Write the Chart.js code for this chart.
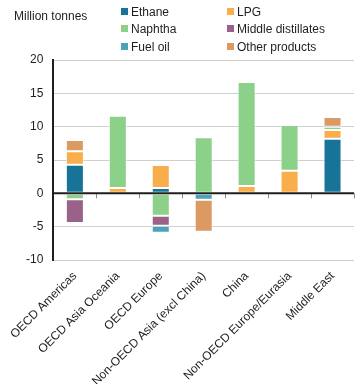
<!DOCTYPE html>
<html>
<head>
<meta charset="utf-8">
<script src="https://cdn.jsdelivr.net/npm/chart.js@4/dist/chart.umd.min.js"></script>
<style>
    body { margin: 0; background: #fff; }
    #wrap { position: relative; width: 362px; height: 384px; font-family: "Liberation Sans", Arial, sans-serif; color: #1e1e1e; }
    #chart { position: absolute; left: 0; top: 0; }
    #unit { position: absolute; left: 14px; top: 9px; font-size: 12px; }
    .item { position: absolute; font-size: 12px; line-height: 14px; white-space: nowrap; }
    .item span { display: inline-block; width: 7px; height: 7px; margin-right: 3px; vertical-align: 1px; }
</style>
</head>
<body>
<div id="wrap">
    <canvas id="chart" width="362" height="384"></canvas>
    <div id="unit">Million tonnes</div>
    <div id="legend"></div>
</div>
<script>
'use strict';

var regions = ['OECD Americas', 'OECD Asia Oceania', 'OECD Europe', 'Non-OECD Asia (excl China)',
    'China', 'Non-OECD Europe/Eurasia', 'Middle East'];
var ethane = [4.3, 0, 0.8, 0, 0, 0, 8.2];
var lpg = [2.0, 0.8, 3.45, 0, 1.1, 3.4, 1.3];
var naphtha = [-0.9, 10.85, -3.35, 8.4, 15.6, 6.85, 0.5];
var middleDistillates = [-3.55, -0.2, -1.5, 0, 0, 0, 0];
var fuelOil = [0, 0, -1.05, -0.95, 0.25, 0, 0];
var otherProducts = [1.7, 0.2, -0.15, -4.8, 0, 0.1, 1.45];
var yTicks = [-10, -5, 0, 5, 10, 15, 20];

var series = [
    { label: 'Ethane', data: ethane, color: '#177498' },
    { label: 'LPG', data: lpg, color: '#f9ae4b' },
    { label: 'Naphtha', data: naphtha, color: '#8bd189' },
    { label: 'Middle distillates', data: middleDistillates, color: '#9a6289' },
    { label: 'Fuel oil', data: fuelOil, color: '#4aa3b7' },
    { label: 'Other products', data: otherProducts, color: '#da9a62' }
];

// legend, two columns
var legendPos = [[121, 5], [227, 5], [121, 22], [227, 22], [121, 40], [227, 40]];
var legend = document.getElementById('legend');
series.forEach(function (s, i) {
    var div = document.createElement('div');
    div.className = 'item';
    div.style.left = legendPos[i][0] + 'px';
    div.style.top = legendPos[i][1] + 'px';
    div.innerHTML = '<span style="background:' + s.color + '"></span>' + s.label;
    legend.appendChild(div);
});

// zero line over the bars, with small ticks between categories
var zeroLine = {
    id: 'zeroLine',
    afterDatasetsDraw: function (chart) {
        var ctx = chart.ctx, x = chart.scales.x, y = chart.scales.y;
        var y0 = y.getPixelForValue(0);
        var step = (x.right - x.left) / regions.length;
        ctx.save();
        ctx.strokeStyle = '#8a8a8a';
        ctx.lineWidth = 1;
        for (var i = 1; i <= regions.length; i++) {
            var px = Math.round(x.left + step * i) + 0.5;
            ctx.beginPath();
            ctx.moveTo(px, y0);
            ctx.lineTo(px, y0 + 5);
            ctx.stroke();
        }
        ctx.strokeStyle = '#1e1e1e';
        ctx.lineWidth = 2;
        ctx.beginPath();
        ctx.moveTo(x.left, y0);
        ctx.lineTo(x.right, y0);
        ctx.stroke();
        ctx.restore();
    }
};

var context = document.getElementById('chart').getContext('2d');
var chart = new Chart(context, {
    type: 'bar',
    data: {
        labels: regions,
        datasets: series.map(function (s) {
            return {
                label: s.label,
                data: s.data,
                backgroundColor: s.color,
                borderColor: 'rgba(255,255,255,0.7)',
                borderWidth: 1,
                borderSkipped: false,
                barPercentage: 0.84,
                categoryPercentage: 0.5
            };
        })
    },
    options: {
        responsive: false,
        animation: false,
        layout: { padding: { top: 60, right: 8, left: 0, bottom: 0 } },
        plugins: { legend: { display: false }, tooltip: { enabled: false } },
        scales: {
            x: {
                stacked: true,
                border: { display: false },
                grid: {
                    offset: true,
                    drawTicks: false,
                    color: function (c) { return c.index === regions.length ? '#cfcfcf' : 'rgba(0,0,0,0)'; }
                },
                ticks: {
                    autoSkip: false,
                    minRotation: 45,
                    maxRotation: 45,
                    padding: 9,
                    color: '#1e1e1e',
                    font: { family: '"Liberation Sans", Arial, sans-serif', size: 12 }
                },
                afterFit: function (scale) { scale.height = 124; }
            },
            y: {
                stacked: true,
                min: -10,
                max: 20,
                afterBuildTicks: function (scale) {
                    scale.ticks = yTicks.map(function (v) { return { value: v }; });
                },
                border: { color: '#1e1e1e', width: 2 },
                grid: { drawTicks: false, color: '#cfcfcf' },
                ticks: {
                    padding: 10,
                    color: '#1e1e1e',
                    font: { family: '"Liberation Sans", Arial, sans-serif', size: 12 }
                },
                afterFit: function (scale) { scale.width = 51; }
            }
        }
    },
    plugins: [zeroLine]
});
</script>
</body>
</html>
